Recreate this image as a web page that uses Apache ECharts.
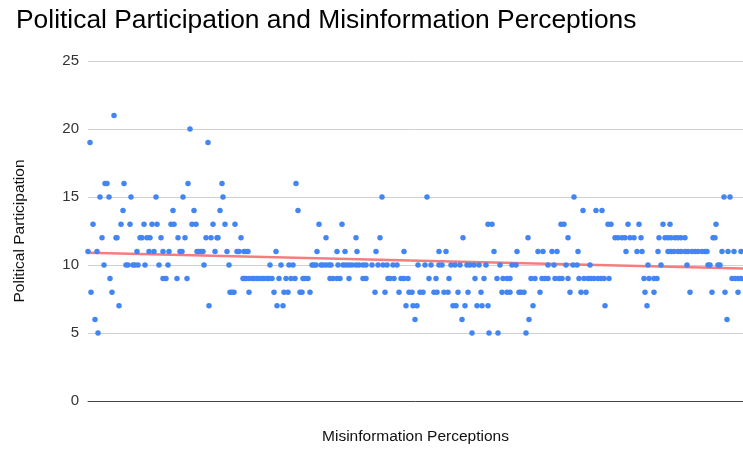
<!DOCTYPE html>
<html>
<head>
<meta charset="utf-8">
<script src="https://cdn.jsdelivr.net/npm/echarts@6/dist/echarts.min.js"></script>
<style>
  html, body { margin: 0; padding: 0; background: #fff; }
  #main { width: 743px; height: 450px; }
</style>
</head>
<body>
<div id="main"></div>
<script>
var participationLevels = [21, 20, 19, 16, 15, 14, 13, 12, 11, 10, 9, 8, 7, 6, 5];
var perceptionByLevel = [
  [26],
  [102],
  [2, 120],
  [17, 19, 36, 100, 134, 208],
  [12, 21, 43, 68, 95, 135, 294, 339, 486, 636, 642],
  [35, 85, 106, 132, 210, 495, 508, 514],
  [5, 33, 42, 56, 64, 69, 83, 86, 104, 108, 125, 137, 147, 231, 254, 400, 404, 473, 476, 520, 523, 540, 551, 575, 582, 628],
  [14, 28, 29, 52, 54, 59, 62, 73, 90, 97, 118, 123, 129, 130, 153, 238, 268, 292, 375, 440, 480, 527, 530, 534, 537, 542, 546, 553, 571, 577, 580, 583, 587, 590, 593, 597, 625, 627],
  [0, 9, 49, 61, 66, 75, 81, 92, 94, 109, 111, 113, 115, 127, 139, 149, 151, 156, 158, 160, 188, 229, 249, 257, 269, 288, 316, 351, 358, 406, 429, 450, 455, 464, 469, 490, 538, 549, 554, 570, 580, 583, 586, 590, 593, 597, 600, 604, 607, 610, 614, 617, 619, 634, 640, 646, 653],
  [16, 38, 40, 45, 47, 50, 57, 71, 80, 116, 141, 182, 193, 201, 205, 224, 226, 228, 233, 235, 238, 241, 243, 250, 255, 258, 261, 264, 268, 271, 275, 278, 284, 290, 295, 299, 305, 309, 330, 337, 343, 351, 354, 363, 367, 372, 379, 382, 386, 391, 398, 412, 424, 428, 460, 466, 478, 485, 489, 502, 560, 573, 599, 620, 622, 630, 632],
  [22, 75, 78, 89, 99, 155, 156, 158, 161, 164, 166, 169, 171, 174, 176, 179, 181, 184, 191, 198, 203, 207, 215, 217, 220, 242, 245, 249, 252, 261, 275, 278, 300, 302, 306, 313, 316, 320, 341, 348, 361, 387, 396, 409, 415, 419, 422, 443, 447, 454, 457, 460, 467, 471, 474, 480, 491, 496, 500, 503, 506, 510, 513, 516, 521, 556, 561, 566, 569, 644, 647, 650, 653],
  [3, 24, 142, 144, 146, 161, 186, 196, 200, 212, 214, 222, 287, 297, 311, 321, 324, 332, 335, 346, 349, 356, 360, 370, 380, 393, 414, 419, 422, 431, 433, 436, 452, 482, 493, 498, 557, 566, 602, 624, 637, 650],
  [31, 121, 189, 195, 318, 325, 329, 365, 368, 377, 389, 394, 400, 445, 517, 559],
  [7, 327, 374, 441, 639],
  [10, 384, 401, 410, 438]
];
// trendline end points (perception, participation)
var trendX = [0, 655];
var trendY = [10.9, 9.75];
var yTicks = [0, 5, 10, 15, 20, 25];

var myChart = echarts.init(document.getElementById("main"));

var points = [];
for (var i = 0; i < participationLevels.length; i++) {
  for (var j = 0; j < perceptionByLevel[i].length; j++) {
    points.push([perceptionByLevel[i][j], participationLevels[i]]);
  }
}
var trend = [[trendX[0], trendY[0]], [trendX[1], trendY[1]]];

var font = "Liberation Sans, Arial, sans-serif";

var option = {
  backgroundColor: "#fff",
  animation: false,
  title: {
    text: "Political Participation and Misinformation Perceptions",
    left: 11,
    top: 3,
    textStyle: { fontFamily: font, fontSize: 26.4, fontWeight: "normal", color: "#000" }
  },
  grid: { left: 88, right: 0, top: 61, bottom: 46, containLabel: false },
  xAxis: {
    type: "value",
    min: trendX[0],
    max: trendX[1],
    name: "Misinformation Perceptions",
    nameLocation: "middle",
    nameGap: 28,
    nameTextStyle: { fontFamily: font, fontSize: 15.5, color: "#111" },
    axisLine: { show: true, lineStyle: { color: "#444", width: 1 } },
    axisTick: { show: false },
    axisLabel: { show: false },
    splitLine: { show: false }
  },
  yAxis: {
    type: "value",
    min: yTicks[0],
    max: yTicks[yTicks.length - 1],
    interval: 5,
    name: "Political Participation",
    nameLocation: "middle",
    nameGap: 60,
    nameTextStyle: { fontFamily: font, fontSize: 15.5, color: "#111" },
    axisLine: { show: false },
    axisTick: { show: false },
    axisLabel: { fontFamily: font, fontSize: 15, color: "#333", margin: 9 },
    splitLine: { lineStyle: { color: "#d0d0d0", width: 1 } }
  },
  series: [
    {
      name: "trend",
      type: "line",
      data: trend,
      symbol: "none",
      lineStyle: { color: "#f47e7e", width: 2.5 },
      z: 2,
      silent: true
    },
    {
      name: "points",
      type: "scatter",
      data: points,
      symbolSize: 5.5,
      itemStyle: { color: "#4285f4", opacity: 1 },
      z: 3
    }
  ]
};

myChart.setOption(option);
</script>
</body>
</html>
